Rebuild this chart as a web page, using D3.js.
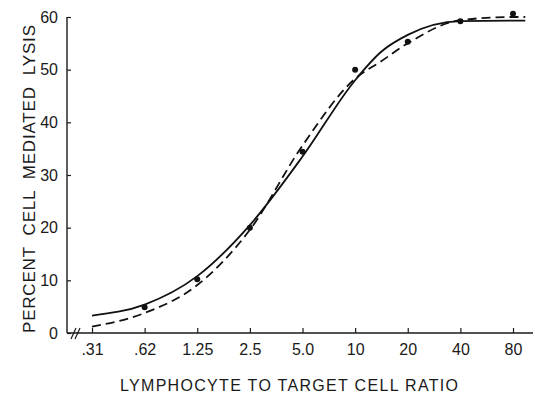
<!DOCTYPE html>
<html>
<head>
<meta charset="utf-8">
<script src="https://cdn.jsdelivr.net/npm/d3@7/dist/d3.min.js"></script>
<style>
  html, body { margin: 0; padding: 0; background: #fff; }
  svg { display: block; }
  text { font-family: "Liberation Sans", Arial, sans-serif; fill: #1a1a1a; }
</style>
</head>
<body>
<div id="chart"></div>
<script>
// Lymphocyte : target cell ratios (doubling dilutions) and their tick labels
const ratios = [0.3125, 0.625, 1.25, 2.5, 5, 10, 20, 40, 80];
const ratioLabels = [".31", ".62", "1.25", "2.5", "5.0", "10", "20", "40", "80"];

// Measured lysis (%) at each ratio
const obsRatio = [0.625, 1.25, 2.5, 5, 10, 20, 40, 80];
const obsLysis = [4.9, 10.2, 20, 34.4, 50, 55.3, 59.2, 60.6];

// Fitted curve (solid)
const fitRatio = [0.3125, 0.625, 1.25, 2.5, 5, 10, 14.1, 20, 40, 80, 94];
const fitLysis = [3.3, 5.4, 10.8, 20.5, 33.5, 48, 53.4, 56.6, 59.2, 59.3, 59.3];

// Second fitted curve (dashed)
const fit2Ratio = [0.3125, 0.625, 1.25, 2.5, 5, 10, 14.1, 20, 40, 80, 94];
const fit2Lysis = [1.2, 3.8, 9.1, 19.6, 35.6, 48.3, 51.6, 55, 59.4, 60, 60];

const yTicks = [0, 10, 20, 30, 40, 50, 60];

const W = 535, H = 396;
const svg = d3.select("#chart").append("svg").attr("width", W).attr("height", H);

const x = d3.scaleLog().base(2).domain([0.3125, 80]).range([92, 513]);
const y = d3.scaleLinear().domain([0, 60]).range([333, 17]);
const axisLeftX = 67;

// Y axis: ticks point inward (to the right)
const yAxis = svg.append("g")
  .attr("transform", `translate(${axisLeftX},0)`)
  .call(d3.axisLeft(y).tickValues(yTicks).tickSizeInner(-4).tickSizeOuter(0).tickPadding(10));
yAxis.select(".domain").remove();
yAxis.selectAll("line").attr("stroke", "#1a1a1a").attr("stroke-width", 1.2);
yAxis.selectAll("text").attr("font-size", 16).attr("fill", "#1a1a1a")
  .attr("x", -9).style("font-family", "Liberation Sans, Arial, sans-serif");
svg.append("line").attr("x1", axisLeftX).attr("x2", axisLeftX)
  .attr("y1", y(60)).attr("y2", y(0)).attr("stroke", "#1a1a1a").attr("stroke-width", 1.4);

// X axis: ticks point inward (upward)
const xAxis = svg.append("g")
  .attr("transform", `translate(0,${y(0)})`)
  .call(d3.axisBottom(x).tickValues(ratios).tickFormat((d, i) => ratioLabels[i])
    .tickSizeInner(-5).tickSizeOuter(0).tickPadding(11));
xAxis.select(".domain").remove();
xAxis.selectAll("line").attr("stroke", "#1a1a1a").attr("stroke-width", 1.2);
xAxis.selectAll("text").attr("font-size", 16).attr("fill", "#1a1a1a")
  .style("font-family", "Liberation Sans, Arial, sans-serif");
svg.append("line").attr("x1", axisLeftX).attr("x2", 533)
  .attr("y1", y(0)).attr("y2", y(0)).attr("stroke", "#1a1a1a").attr("stroke-width", 1.4);

// Axis break marks
[0, 4].forEach(dx => {
  svg.append("line")
    .attr("x1", 71 + dx).attr("y1", y(0) + 6)
    .attr("x2", 76 + dx).attr("y2", y(0) - 5)
    .attr("stroke", "#1a1a1a").attr("stroke-width", 1.2);
});

// Curves
const line = d3.line().curve(d3.curveMonotoneX);
const solidPts = fitRatio.map((r, i) => [x(r), y(fitLysis[i])]);
const dashPts = fit2Ratio.map((r, i) => [x(r), y(fit2Lysis[i])]);

svg.append("path").attr("d", line(solidPts))
  .attr("fill", "none").attr("stroke", "#111").attr("stroke-width", 1.8);
svg.append("path").attr("d", line(dashPts))
  .attr("fill", "none").attr("stroke", "#111").attr("stroke-width", 1.8)
  .attr("stroke-dasharray", "9,5");

// Observed points
svg.selectAll("circle.obs").data(obsRatio).enter().append("circle")
  .attr("class", "obs")
  .attr("cx", d => x(d)).attr("cy", (d, i) => y(obsLysis[i]))
  .attr("r", 3).attr("fill", "#111");

// Axis titles
svg.append("text")
  .attr("x", 120).attr("y", 391)
  .attr("font-size", 16)
  .attr("textLength", 338).attr("lengthAdjust", "spacing")
  .text("LYMPHOCYTE TO TARGET CELL RATIO");

svg.append("text")
  .attr("transform", "translate(35,333) rotate(-90)")
  .attr("font-size", 17)
  .attr("xml:space", "preserve")
  .attr("textLength", 308).attr("lengthAdjust", "spacing")
  .text("PERCENT  CELL  MEDIATED  LYSIS");
</script>
</body>
</html>
